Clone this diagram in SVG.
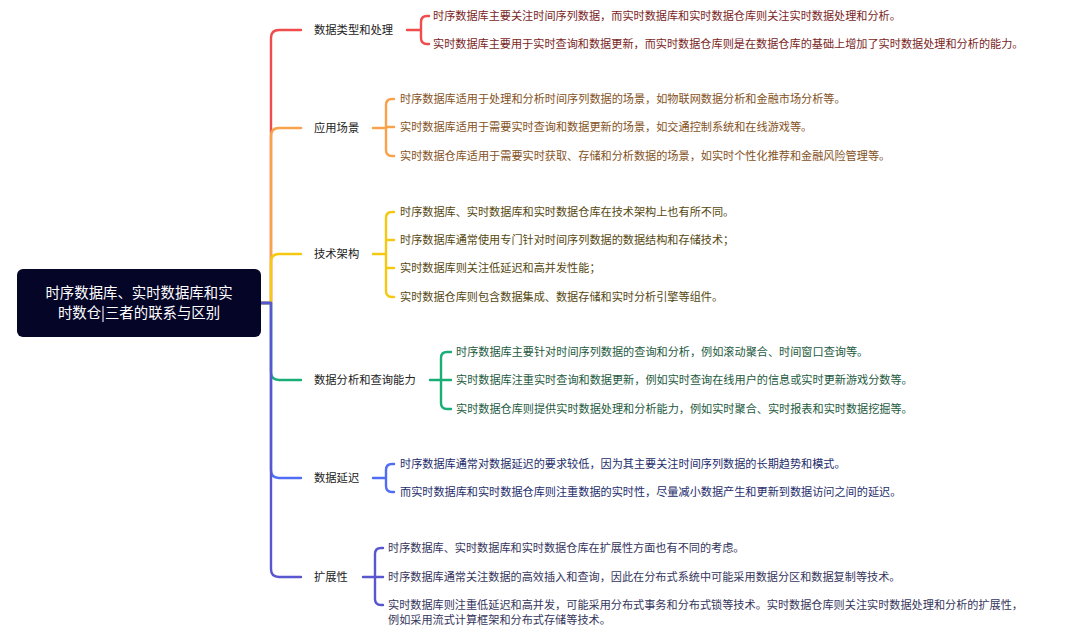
<svg xmlns="http://www.w3.org/2000/svg" width="1080" height="635" viewBox="0 0 1080 635">
<defs>
<style>
text{font-family:"Noto Sans CJK SC","Microsoft YaHei",sans-serif;font-size:11.15px}
.root{font-size:14.4px;fill:#ffffff;text-anchor:middle}
.lbl{fill:#222222;font-size:11.3px}
.ln{fill:none;stroke-width:2.4;stroke-linecap:round;stroke-linejoin:round}
.r{stroke:#f04c4c}.o{stroke:#f8a24c}.y{stroke:#f5c912}.g{stroke:#18ae76}.b{stroke:#4f6ef5}.p{stroke:#5a56cf}
.tr{fill:#7a1e1e}.to{fill:#855224}.ty{fill:#564810}.tg{fill:#1d5a3d}.tb{fill:#1e2d6b}.tp{fill:#35355c}
</style>
</defs>
<rect width="1080" height="635" fill="#ffffff"/>
<g id="connectors">
<path class="ln r" d="M261,303 H271 V38 Q271,30 279,30 H301"/>
<path class="ln o" d="M261,303 H271 V136 Q271,128 279,128 H301"/>
<path class="ln y" d="M261,303 H271 V262 Q271,254 279,254 H301"/>
<path class="ln g" d="M261,303 H271 V372 Q271,380 279,380 H301"/>
<path class="ln b" d="M261,303 H271 V470 Q271,478 279,478 H301"/>
<path class="ln p" d="M261,303 H271 V569 Q271,577 279,577 H301"/>
<path class="ln r" d="M407,30 H421 M429,16 H427 Q421,16 421,22 V38 Q421,44 427,44 H429"/>
<path class="ln o" d="M373,128 H386 M394,99 H392 Q386,99 386,105 V150 Q386,156 392,156 H394 M386,127 H394"/>
<path class="ln y" d="M373,254 H386 M394,212 H392 Q386,212 386,218 V291 Q386,297 392,297 H394 M386,240 H394 M386,268 H394"/>
<path class="ln g" d="M430,380 H441 M451,352 H447 Q441,352 441,358 V403 Q441,409 447,409 H451 M441,380 H451"/>
<path class="ln b" d="M373,478 H386 M394,464 H392 Q386,464 386,470 V486 Q386,492 392,492 H394"/>
<path class="ln p" d="M363,577 H375 M383,548 H381 Q375,548 375,554 V599 Q375,605 381,605 H383 M375,577 H383"/>
</g>
<g id="root">
<rect x="17" y="269" width="244" height="68" rx="6" fill="#050528"/>
<text class="root" x="139" y="298">时序数据库、实时数据库和实</text>
<text class="root" x="139" y="318">时数仓|三者的联系与区别</text>
</g>
<g id="n1">
<text class="lbl" x="314" y="34">数据类型和处理</text>
<text class="tr" x="433" y="20">时序数据库主要关注时间序列数据，而实时数据库和实时数据仓库则关注实时数据处理和分析。</text>
<text class="tr" x="433" y="48">实时数据库主要用于实时查询和数据更新，而实时数据仓库则是在数据仓库的基础上增加了实时数据处理和分析的能力。</text>
</g>
<g id="n2">
<text class="lbl" x="314" y="132">应用场景</text>
<text class="to" x="400" y="103">时序数据库适用于处理和分析时间序列数据的场景，如物联网数据分析和金融市场分析等。</text>
<text class="to" x="400" y="131">实时数据库适用于需要实时查询和数据更新的场景，如交通控制系统和在线游戏等。</text>
<text class="to" x="400" y="160">实时数据仓库适用于需要实时获取、存储和分析数据的场景，如实时个性化推荐和金融风险管理等。</text>
</g>
<g id="n3">
<text class="lbl" x="314" y="258">技术架构</text>
<text class="ty" x="400" y="216">时序数据库、实时数据库和实时数据仓库在技术架构上也有所不同。</text>
<text class="ty" x="400" y="244">时序数据库通常使用专门针对时间序列数据的数据结构和存储技术；</text>
<text class="ty" x="400" y="272">实时数据库则关注低延迟和高并发性能；</text>
<text class="ty" x="400" y="301">实时数据仓库则包含数据集成、数据存储和实时分析引擎等组件。</text>
</g>
<g id="n4">
<text class="lbl" x="314" y="384">数据分析和查询能力</text>
<text class="tg" x="456" y="356">时序数据库主要针对时间序列数据的查询和分析，例如滚动聚合、时间窗口查询等。</text>
<text class="tg" x="456" y="384">实时数据库注重实时查询和数据更新，例如实时查询在线用户的信息或实时更新游戏分数等。</text>
<text class="tg" x="456" y="413">实时数据仓库则提供实时数据处理和分析能力，例如实时聚合、实时报表和实时数据挖掘等。</text>
</g>
<g id="n5">
<text class="lbl" x="314" y="482">数据延迟</text>
<text class="tb" x="400" y="468">时序数据库通常对数据延迟的要求较低，因为其主要关注时间序列数据的长期趋势和模式。</text>
<text class="tb" x="400" y="496">而实时数据库和实时数据仓库则注重数据的实时性，尽量减小数据产生和更新到数据访问之间的延迟。</text>
</g>
<g id="n6">
<text class="lbl" x="314" y="581">扩展性</text>
<text class="tp" x="388" y="552">时序数据库、实时数据库和实时数据仓库在扩展性方面也有不同的考虑。</text>
<text class="tp" x="388" y="581">时序数据库通常关注数据的高效插入和查询，因此在分布式系统中可能采用数据分区和数据复制等技术。</text>
<text class="tp" x="388" y="609">实时数据库则注重低延迟和高并发，可能采用分布式事务和分布式锁等技术。实时数据仓库则关注实时数据处理和分析的扩展性，</text>
<text class="tp" x="388" y="624">例如采用流式计算框架和分布式存储等技术。</text>
</g>
</svg>
